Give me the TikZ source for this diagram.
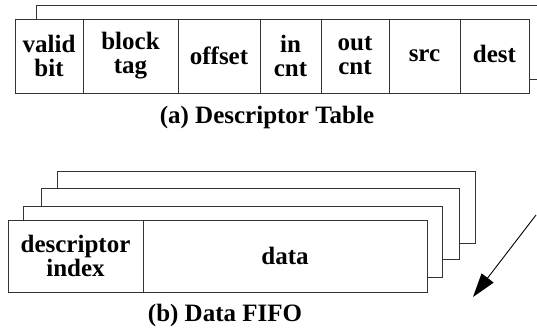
\documentclass[tikz,border=0pt]{standalone}
\usepackage{fontspec}
\setmainfont{Liberation Serif}
\usetikzlibrary{arrows.meta}

\tikzset{
  cellbox/.style={draw=black!80, line width=0.9pt, fill=white},
  celltext/.style={font=\fontsize{25}{24}\selectfont\bfseries, align=center, inner sep=0pt},
  captiontext/.style={font=\fontsize{25}{26}\selectfont\bfseries, inner sep=0pt},
}

\begin{document}
\begin{tikzpicture}[x=1pt,y=1pt,yscale=-1,xscale=1]
\useasboundingbox (0,0) rectangle (537,330);
\clip (0,0) rectangle (537,330);

%Shape: Rectangle [back of descriptor table]
\draw [cellbox] (36,5) rectangle (560,79) ;
%Shape: Rectangle [descriptor table]
\draw [cellbox] (15,19) rectangle (529,93) ;
%Straight Lines [column dividers]
\foreach \x in {83,178,260,321,389,460}
  \draw [cellbox] (\x,19) -- (\x,93) ;

% Text Node
\draw (49,56) node [celltext] (valid) {valid\\bit};
% Text Node
\draw (130.5,56) node [celltext] (tag) {block\\tag};
% Text Node
\draw (219,56) node [celltext] (offset) {offset};
% Text Node
\draw (290.5,56) node [celltext] (incnt) {in\\cnt};
% Text Node
\draw (355,56) node [celltext] (outcnt) {out\\cnt};
% Text Node
\draw (424.5,56) node [celltext] (src) {src};
% Text Node
\draw (494.5,54) node [celltext] (dest) {dest};
% Text Node
\draw (267,117) node [captiontext] (capa) {(a) Descriptor Table};

%Shape: Rectangle [fifo entries, back to front]
\draw [cellbox] (57,171) rectangle (475,243) ;
\draw [cellbox] (41,188) rectangle (459,259) ;
\draw [cellbox] (23,206) rectangle (442,277) ;
\draw [cellbox] (8,220) rectangle (427,292) ;
%Straight Lines [field divider]
\draw [cellbox] (143,220) -- (143,292) ;

% Text Node
\draw (75.5,256) node [celltext] (index) {descriptor\\index};
% Text Node
\draw (285,256) node [celltext] (data) {data};
% Text Node
\draw (225,315) node [captiontext] (capb) {(b) Data FIFO};

%Straight Lines [push direction]
\coordinate (arrstart) at (536,215);
\coordinate (arrend) at (473,297);
\draw [line width=0.9pt, -{Triangle[length=24pt,width=15pt]}] (arrstart) -- (arrend) ;

\end{tikzpicture}
\end{document}
